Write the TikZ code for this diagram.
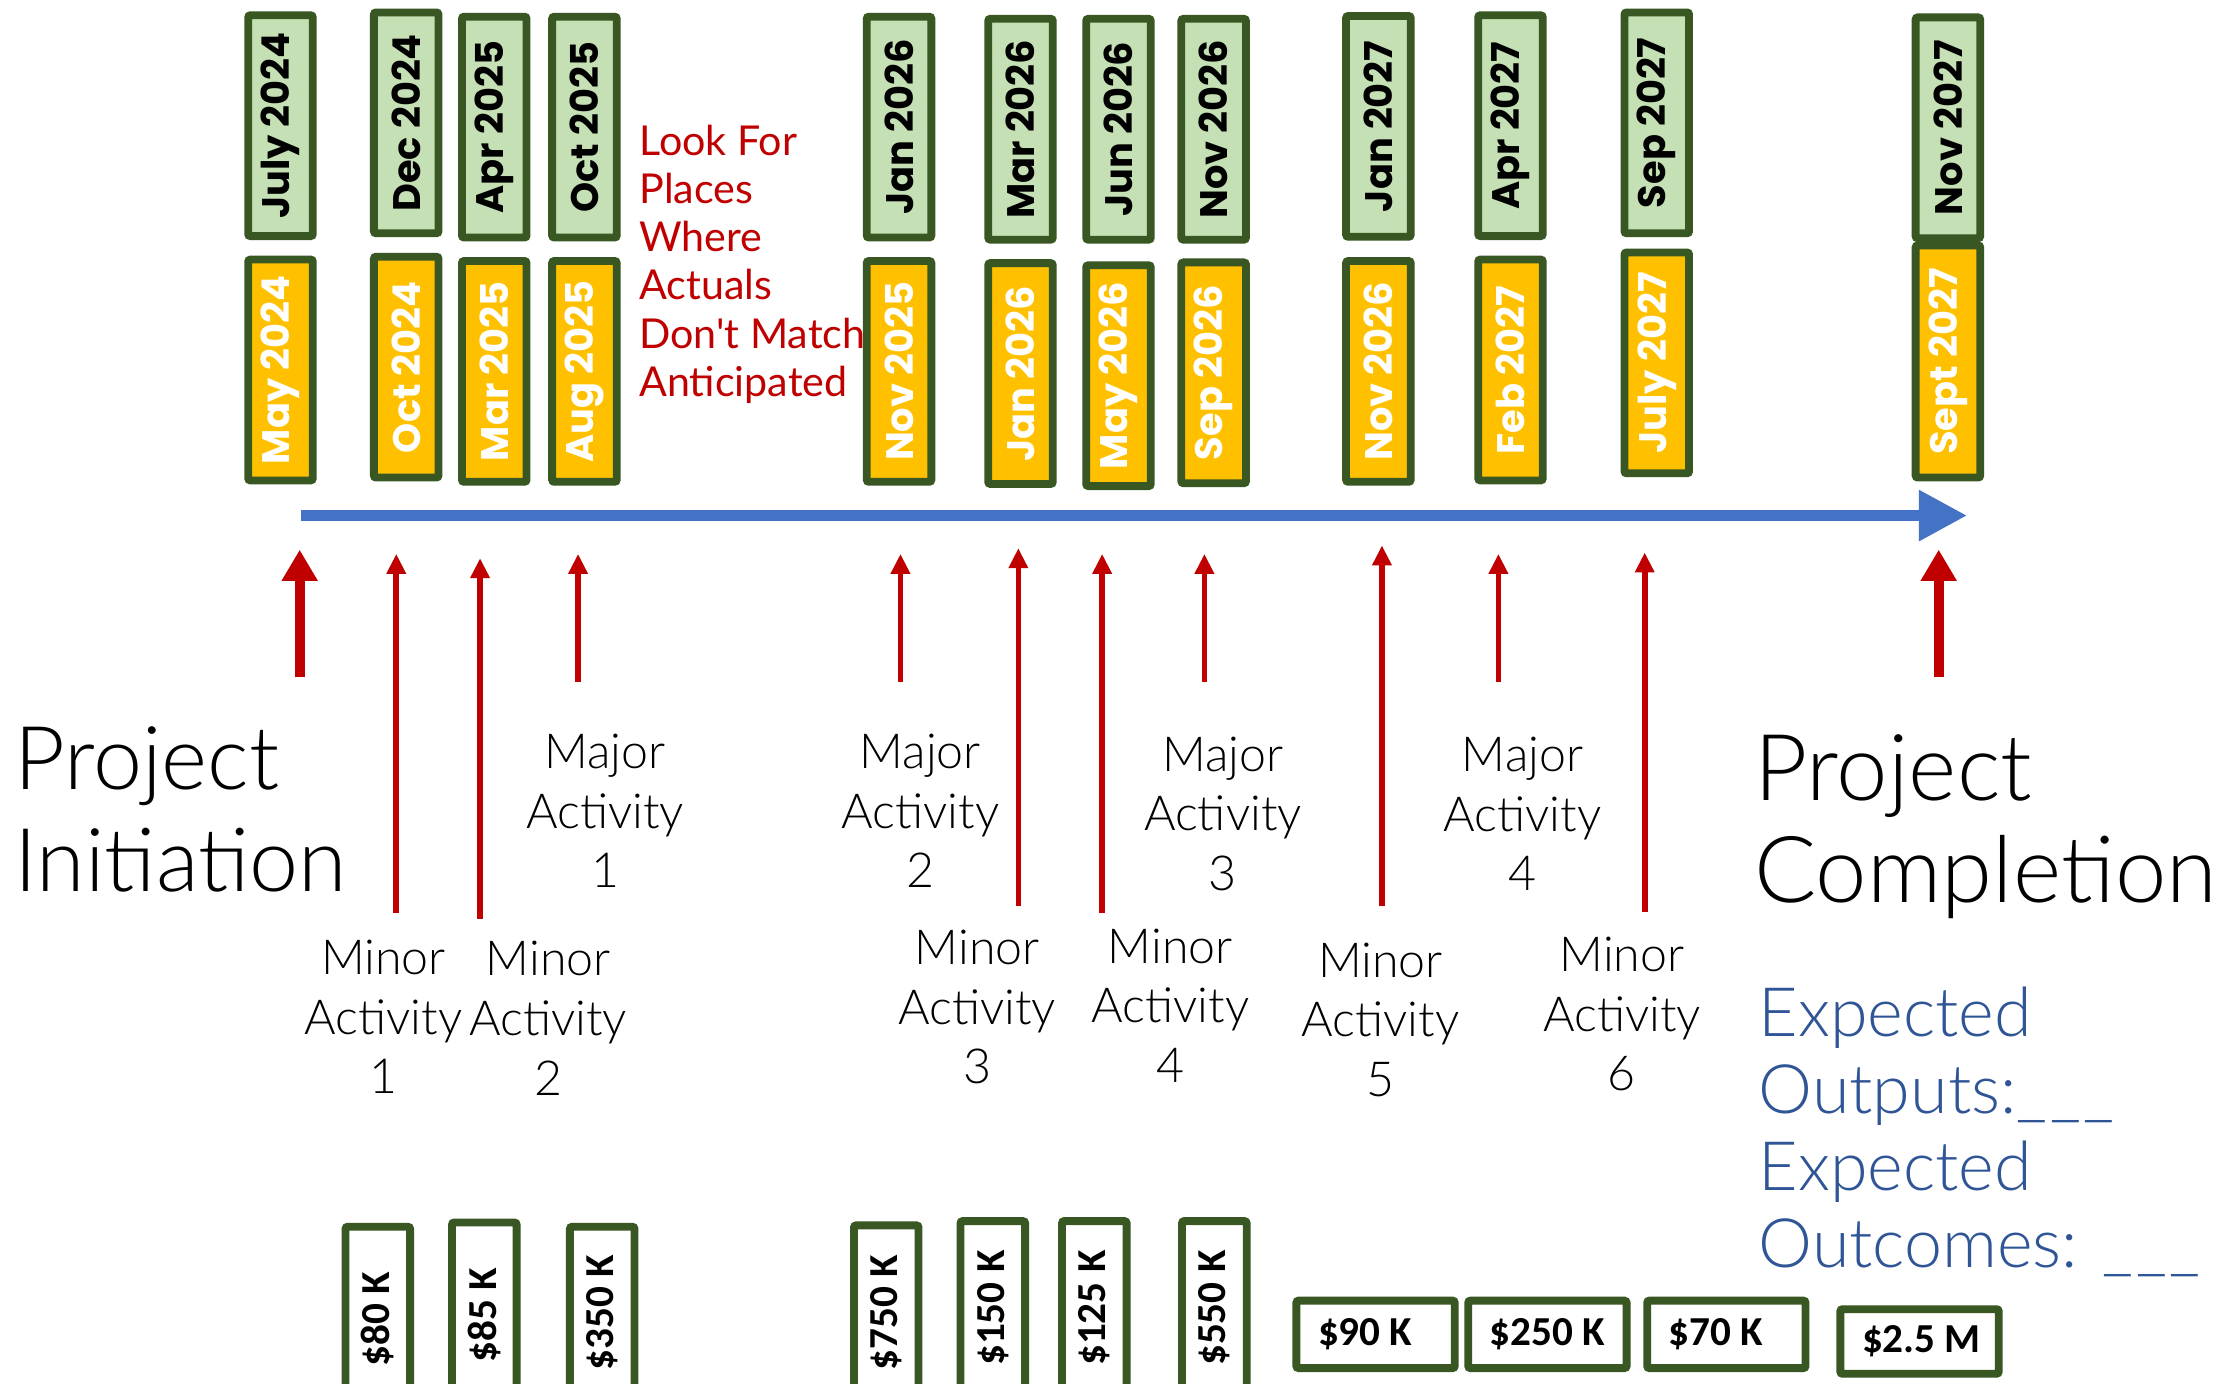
\documentclass[tikz,border=0pt]{standalone}
\usepackage{fontspec}
\IfFontExistsTF{Lato Light}{\setmainfont{Lato Light}}{\setmainfont{Lato}}
\newfontfamily\notefont{Lato}
\newfontfamily\datefont{Poppins}
\newfontfamily\tagfont{Carlito}
\usetikzlibrary{arrows.meta}

\definecolor{boxgreen}{HTML}{385723}
\definecolor{palegreen}{HTML}{C5E0B4}
\definecolor{amber}{HTML}{FFC000}
\definecolor{flagred}{HTML}{C00000}
\definecolor{lineblue}{HTML}{4472C4}
\definecolor{textblue}{HTML}{2F5597}

\newcommand{\blank}{\_\kern2pt\_\kern2pt\_}

\tikzset{
  datebox/.style={draw=boxgreen, line width=5.5pt, rounded corners=1.5pt, rotate=90,
    minimum width=155.5pt, minimum height=45.5pt, inner sep=0pt,
    font=\datefont\bfseries\fontsize{27}{27}\selectfont},
  plan/.style={datebox, fill=palegreen, text=black},
  actual/.style={datebox, fill=amber, text=white},
  vcost/.style={draw=boxgreen, fill=white, line width=5.5pt, rounded corners=1.5pt, rotate=90,
    minimum height=45.5pt, inner sep=0pt, font=\tagfont\bfseries\fontsize{29}{29}\selectfont},
  hcost/.style={draw=boxgreen, fill=white, line width=5.5pt, rounded corners=1.5pt,
    minimum width=111.5pt, minimum height=47.5pt, inner xsep=15.25pt, inner ysep=0pt,
    font=\tagfont\bfseries\fontsize{29}{29}\selectfont},
  activity/.style={align=center, inner sep=0pt, font=\fontsize{34}{42}\selectfont},
  bigtitle/.style={align=left, inner sep=0pt, font=\fontsize{62}{72}\selectfont},
  majorarrow/.style={-{Triangle[width=24pt,length=22pt]}, draw=flagred, fill=flagred, line width=7pt},
  minorarrow/.style={-{Triangle[width=13pt,length=14pt]}, draw=flagred, fill=flagred, line width=4pt},
}

\begin{document}
\begin{tikzpicture}[x=1pt, y=-1pt]
\useasboundingbox (0,0) rectangle (1568,974);
\fill[white] (0,0) rectangle (1568,974);
\clip (0,0) rectangle (1568,974);

% planned dates (top row)
\node[plan] (p1)  at (197.5,88.5)  {July 2024};
\node[plan] (p2)  at (286,86.5)    {Dec 2024};
\node[plan] (p3)  at (348,89.5)    {Apr 2025};
\node[plan] (p4)  at (411.5,89.5)  {Oct 2025};
\node[plan] (p5)  at (633,89.5)    {Jan 2026};
\node[plan] (p6)  at (718.5,91)    {Mar 2026};
\node[plan] (p7)  at (787.5,91)    {Jun 2026};
\node[plan] (p8)  at (854.5,91)    {Nov 2026};
\node[plan] (p9)  at (970.5,89)    {Jan 2027};
\node[plan] (p10) at (1063.5,88.5) {Apr 2027};
\node[plan] (p11) at (1166.5,86.5) {Sep 2027};
\node[plan] (p12) at (1371.5,90)   {Nov 2027};

% actual dates (second row)
\node[actual] (a1)  at (197.5,260.5)  {May 2024};
\node[actual] (a2)  at (286,258.5)    {Oct 2024};
\node[actual] (a3)  at (348,261.5)    {Mar 2025};
\node[actual] (a4)  at (411.5,261.5)  {Aug 2025};
\node[actual] (a5)  at (633,261.5)    {Nov 2025};
\node[actual] (a6)  at (718.5,263)    {Jan 2026};
\node[actual] (a7)  at (787.5,264.5)  {May 2026};
\node[actual] (a8)  at (854.5,262.5)  {Sep 2026};
\node[actual] (a9)  at (970.5,261.5)  {Nov 2026};
\node[actual] (a10) at (1063.5,260.5) {Feb 2027};
\node[actual] (a11) at (1166.5,255.5) {July 2027};
\node[actual, minimum width=163.5pt] (a12) at (1371.5,254.5) {Sept 2027};

% note
\node[anchor=west, align=left, inner sep=0pt, text=flagred, font=\notefont\fontsize{29}{34}\selectfont]
  (note) at (450,186) {Look For\\Places\\Where\\Actuals\\Don't Match\\Anticipated};

% time axis
\coordinate (axL) at (212,363);
\coordinate (axR) at (1385,363);
\draw[-{Triangle[width=34pt,length=34pt]}, draw=lineblue, fill=lineblue, line width=8pt] (axL) -- (axR);

% milestone arrows
\foreach \i/\x/\tip/\tail/\kind in {
  1/211/387/477/majorarrow, 2/279/390/643/minorarrow, 3/338/393/647/minorarrow,
  4/407/390/480/minorarrow, 5/634/390/480/minorarrow, 6/717/386/638/minorarrow,
  7/776/390/643/minorarrow, 8/848/390/480/minorarrow, 9/973/384/638/minorarrow,
  10/1055/390/480/minorarrow, 11/1158/389/642/minorarrow, 12/1365/387/477/majorarrow}{
  \coordinate (tail\i) at (\x,\tail);
  \coordinate (tip\i) at (\x,\tip);
  \draw[\kind] (tail\i) -- (tip\i);
}

% titles
\node[bigtitle, anchor=west] (init) at (10,570) {Project\\Initiation};
\node[bigtitle, anchor=west, font=\fontsize{65}{72}\selectfont] (done) at (1235,582) {Project\\Completion};
\node[anchor=north west, align=left, inner sep=0pt, text=textblue, font=\fontsize{48}{54}\selectfont]
  (expect) at (1238,695) {Expected\\Outputs:\blank\\Expected\\Outcomes: \blank};

% activities
\node[activity] (maj1) at (426,571)  {Major\\Activity\\1};
\node[activity] (maj2) at (648,571)  {Major\\Activity\\2};
\node[activity] (maj3) at (861,573)  {Major\\Activity\\3};
\node[activity] (maj4) at (1072,573) {Major\\Activity\\4};
\node[activity] (min1) at (270,716)  {Minor\\Activity\\1};
\node[activity] (min2) at (386,717)  {Minor\\Activity\\2};
\node[activity] (min3) at (688,709)  {Minor\\Activity\\3};
\node[activity] (min4) at (824,708)  {Minor\\Activity\\4};
\node[activity] (min5) at (972,718)  {Minor\\Activity\\5};
\node[activity] (min6) at (1142,714) {Minor\\Activity\\6};

% budgets
\node[vcost, minimum width=130.5pt] (c1) at (266,929)   {\$80 K};
\node[vcost, minimum width=130.5pt] (c2) at (341,926)   {\$85 K};
\node[vcost, minimum width=120.5pt] (c3) at (424,924)   {\$350 K};
\node[vcost, minimum width=122.5pt] (c4) at (624,924)   {\$750 K};
\node[vcost, minimum width=122.5pt] (c5) at (699,921)   {\$150 K};
\node[vcost, minimum width=122.5pt] (c6) at (770.5,921) {\$125 K};
\node[vcost, minimum width=122.5pt] (c7) at (855,921)   {\$550 K};
\node[hcost] (c8)  at (968.5,939.5)  {\makebox[81pt][l]{\$90 K}};
\node[hcost] (c9)  at (1089.5,939.5) {\makebox[81pt][l]{\$250 K}};
\node[hcost] (c10) at (1215.5,939.5) {\makebox[81pt][l]{\$70 K}};
\node[hcost, minimum height=45.5pt] (c11) at (1351.5,944.5) {\makebox[81pt][l]{\$2.5 M}};
\end{tikzpicture}
\end{document}
